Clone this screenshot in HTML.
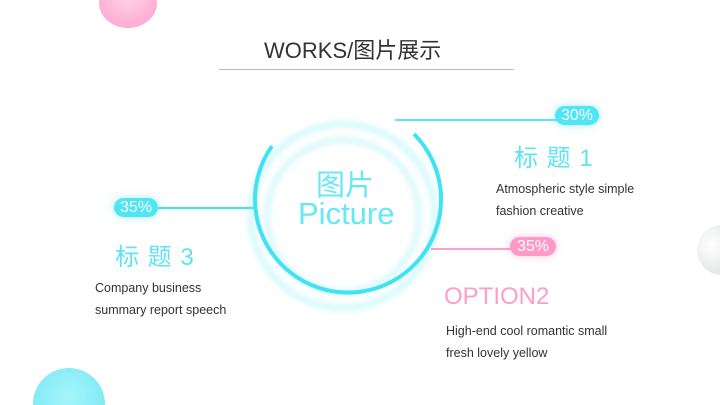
<!DOCTYPE html>
<html style="height:405px;overflow:hidden"><head><meta charset="utf-8"><style>
body{margin:0;width:720px;height:405px;overflow:hidden;background:#fff;position:relative;font-family:"Liberation Sans","Noto Sans CJK SC",sans-serif}
.a{position:absolute;white-space:nowrap}
.pill{position:absolute;height:19px;border-radius:10px;color:#fff;font-size:16px;line-height:19px;text-align:center;box-shadow:0 0 8px rgba(80,220,240,.5)}
.p{font-size:12.5px;color:#333;line-height:22px}
</style></head><body>
<div class="a" style="left:99px;top:0;width:58px;height:28px;overflow:hidden"><div style="position:absolute;left:0;top:-22px;width:58px;height:50px;border-radius:50%;background:radial-gradient(circle at 50% 30%,#ffd6ea,#ff9fcc)"></div></div>
<div class="a" style="left:697px;top:225px;width:23px;height:50px;overflow:hidden"><div style="position:absolute;left:0;top:0;width:50px;height:50px;border-radius:50%;background:radial-gradient(circle at 30% 40%,#fff,#d5d8d8)"></div></div>
<div class="a" style="left:33px;top:368px;width:72px;height:37px;overflow:hidden"><div style="position:absolute;left:0;top:0;width:72px;height:72px;border-radius:50%;background:radial-gradient(circle at 50% 40%,#a6f6fb,#6fe4f2)"></div></div>
<div class="a" style="left:264px;top:33px;font-size:22px;color:#333">WORKS/图片展示</div>
<div class="a" style="left:219px;top:69px;width:295px;height:1px;background:#bbb"></div>
<svg class="a" style="left:0;top:0" width="720" height="405">
<defs><filter id="g"><feGaussianBlur stdDeviation="3"/></filter></defs>
<circle cx="343" cy="216" r="76" fill="none" stroke="#d8f8fb" stroke-width="6" filter="url(#g)"/>
<circle cx="343" cy="216" r="92" fill="none" stroke="#8cf0f8" stroke-width="6" opacity=".4" filter="url(#g)"/>
<path d="M272 146 A93 93 0 1 0 414 134" fill="none" stroke="#3fe3f3" stroke-width="4"/>
<line x1="395" y1="120" x2="560" y2="120" stroke="#5fe6f3" stroke-width="2"/>
<line x1="158" y1="208" x2="255" y2="208" stroke="#3fe3f3" stroke-width="2"/>
<line x1="431" y1="249" x2="512" y2="249" stroke="#ff9dcc" stroke-width="2"/>
</svg>
<div class="pill" style="left:555px;top:106px;width:44px;background:#4fe6f4">30%</div>
<div class="pill" style="left:114px;top:198px;width:44px;background:#4fe6f4">35%</div>
<div class="pill" style="left:510px;top:237px;width:46px;background:#ff99c8;box-shadow:0 0 8px rgba(255,150,200,.5)">35%</div>
<div class="a" style="left:316px;top:162px;font-size:29px;color:#66e8f5">图片</div>
<div class="a" style="left:298px;top:196px;font-size:31px;color:#66e8f5">Picture</div>
<div class="a" style="left:514px;top:138px;font-size:24px;color:#5fe3f2;letter-spacing:1px">标 题 1</div>
<div class="a p" style="left:496px;top:178px">Atmospheric style simple<br>fashion creative</div>
<div class="a" style="left:115px;top:237px;font-size:24px;color:#5fe3f2;letter-spacing:1px">标 题 3</div>
<div class="a p" style="left:95px;top:277px">Company business<br>summary report speech</div>
<div class="a" style="left:444px;top:283px;font-size:24px;color:#ff9dca">OPTION2</div>
<div class="a p" style="left:446px;top:320px">High-end cool romantic small<br>fresh lovely yellow</div>
</body></html>
